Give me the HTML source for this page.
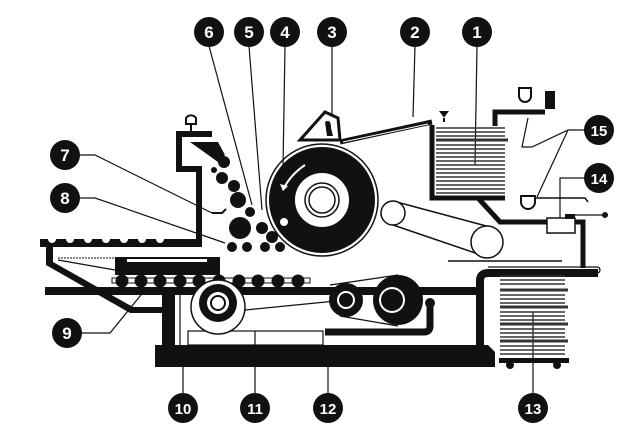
<!DOCTYPE html>
<html><head><meta charset="utf-8"><style>
html,body{margin:0;padding:0;background:#fff;width:640px;height:448px;overflow:hidden}
svg{display:block}
text{font-family:"Liberation Sans",Arial,sans-serif;font-weight:bold;font-size:17px;fill:#fff;text-anchor:middle}
</style></head><body>
<svg width="640" height="448" viewBox="0 0 640 448" xmlns="http://www.w3.org/2000/svg">
<rect width="640" height="448" fill="#fff"/>
<g stroke="#111" stroke-width="1.2" fill="none">
<line x1="209" y1="46" x2="252" y2="205"/>
<line x1="249" y1="46" x2="262" y2="210"/>
<line x1="285" y1="46" x2="283" y2="168"/>
<line x1="332" y1="46" x2="332" y2="115"/>
<line x1="415" y1="46" x2="413" y2="117"/>
<line x1="477" y1="46" x2="475" y2="165"/>
<polyline points="79,155 95,155 212,213"/>
<polyline points="79,198 95,198 225,243"/>
<polyline points="81,333 110,333 145,290"/>
<line x1="183" y1="393" x2="183" y2="345"/>
<line x1="255" y1="393" x2="255" y2="332"/>
<line x1="328" y1="393" x2="328" y2="367"/>
<line x1="533" y1="393" x2="533" y2="312"/>
<polyline points="584,130 568,130 532,147 522,147 528,118"/>
<line x1="568" y1="130" x2="537" y2="197"/>
<polyline points="586,178 560,178 560,222"/>
</g>
<g fill="#111">
<circle cx="209" cy="32" r="15"/><circle cx="249" cy="32" r="15"/><circle cx="285" cy="32" r="15"/>
<circle cx="332" cy="32" r="15"/><circle cx="415" cy="32" r="15"/><circle cx="477" cy="32" r="15"/>
<circle cx="65" cy="155" r="15"/><circle cx="65" cy="198" r="15"/><circle cx="67" cy="333" r="15"/>
<circle cx="183" cy="408" r="15"/><circle cx="255" cy="408" r="15"/><circle cx="328" cy="408" r="15"/>
<circle cx="533" cy="408" r="15"/><circle cx="599" cy="178" r="15"/><circle cx="599" cy="130" r="15"/>
</g>
<g>
<text x="209" y="38">6</text><text x="249" y="38">5</text><text x="285" y="38">4</text>
<text x="332" y="38">3</text><text x="415" y="38">2</text><text x="477" y="38">1</text>
<text x="65" y="161">7</text><text x="65" y="204">8</text><text x="67" y="339">9</text>
<text x="183" y="414" style="font-size:15px">10</text><text x="255" y="414" style="font-size:15px">11</text>
<text x="328" y="414" style="font-size:15px">12</text><text x="533" y="414" style="font-size:15px">13</text>
<text x="599" y="184" style="font-size:15px">14</text><text x="599" y="136" style="font-size:15px">15</text>
</g>

<!-- ink feeder frame -->
<path d="M212,134 H179 V169 H199 V243" stroke="#111" stroke-width="6" fill="none"/>
<path d="M202,247 H46 V265 L130,313 H163 V307 H133 L53,262 V247 H40 V239 H202 Z" fill="#111"/>
<g fill="#fff"><circle cx="52" cy="239" r="4"/><circle cx="70" cy="239" r="4"/><circle cx="88" cy="239" r="4"/><circle cx="106" cy="239" r="4"/><circle cx="124" cy="239" r="4"/><circle cx="142" cy="239" r="4"/><circle cx="160" cy="239" r="4"/></g>
<path d="M186,124 h10 v-6 a6,6 0 0 0 -10 0z M191,124 v8" fill="#fff" stroke="#111" stroke-width="2"/>
<path d="M190,142 H218 L225,155 L218,162 Z" fill="#111"/>
<g fill="#111">
<circle cx="224" cy="162" r="6"/><circle cx="214" cy="170" r="3"/><circle cx="222" cy="178" r="6"/>
<circle cx="234" cy="186" r="6"/><circle cx="238" cy="200" r="8"/><circle cx="250" cy="212" r="5"/>
<circle cx="240" cy="228" r="11"/><circle cx="262" cy="228" r="6"/><circle cx="272" cy="237" r="6"/>
<circle cx="232" cy="247" r="5"/><circle cx="247" cy="247" r="5"/><circle cx="265" cy="247" r="5"/><circle cx="280" cy="247" r="5"/>
</g>
<path d="M212,213 h10 l4,-4" stroke="#111" stroke-width="2" fill="none"/>

<!-- drum -->
<circle cx="322" cy="200" r="56" fill="none" stroke="#111" stroke-width="1.5"/>
<circle cx="322" cy="200" r="40" fill="none" stroke="#111" stroke-width="26"/>
<circle cx="322" cy="200" r="17" fill="none" stroke="#111" stroke-width="1.5"/>
<circle cx="322" cy="200" r="13" fill="none" stroke="#111" stroke-width="1.5"/>
<path d="M305,165 Q290,175 283,190" stroke="#fff" stroke-width="2" fill="none"/>
<path d="M280,184 l3,7 l5,-5z" fill="#fff"/>
<circle cx="284" cy="222" r="4" fill="#fff"/>
<path d="M300,140 L325,112 L338,118 L340,140 Z" fill="#fff" stroke="#111" stroke-width="3"/>
<path d="M325,122 q6,-4 6,6 l2,8 h-6z" fill="#111"/>
<path d="M340,142 L432,122" stroke="#111" stroke-width="5"/>
<path d="M343,142 L428,124" stroke="#fff" stroke-width="1"/>
<path d="M432,125 V198 H505" stroke="#111" stroke-width="5" fill="none"/>
<g stroke="#333" stroke-width="1.6">
<line x1="436" y1="128" x2="505" y2="128"/><line x1="436" y1="132" x2="505" y2="132"/><line x1="436" y1="136" x2="505" y2="136"/><line x1="436" y1="140" x2="508" y2="140" stroke-width="3"/><line x1="436" y1="145" x2="505" y2="145"/><line x1="436" y1="149" x2="505" y2="149"/><line x1="436" y1="153" x2="505" y2="153"/><line x1="436" y1="157" x2="505" y2="157"/><line x1="436" y1="161" x2="505" y2="161"/><line x1="436" y1="165" x2="505" y2="165"/><line x1="436" y1="169" x2="505" y2="169"/><line x1="436" y1="173" x2="505" y2="173"/><line x1="436" y1="177" x2="505" y2="177"/><line x1="436" y1="181" x2="505" y2="181"/><line x1="436" y1="185" x2="505" y2="185"/><line x1="436" y1="189" x2="505" y2="189"/><line x1="436" y1="193" x2="505" y2="193"/>
</g>
<path d="M444,118 v4 M441,112 h6 l-3,4z" stroke="#111" stroke-width="2"/>
<g fill="#fff" stroke="#111" stroke-width="1.5">
<path d="M393,201 L490,227 M393,225 L487,257"/>
<circle cx="393" cy="213" r="12"/><circle cx="487" cy="242" r="16"/>
</g>
<line x1="448" y1="261" x2="562" y2="261" stroke="#111" stroke-width="1.5"/>
<path d="M478,198 L500,222 H583 V268" stroke="#111" stroke-width="5" fill="none"/>
<path d="M495,126 V112 H545" stroke="#111" stroke-width="5" fill="none"/>
<path d="M519,88 h12 v8 a6,6 0 0 1 -12,0z" fill="#fff" stroke="#111" stroke-width="2"/>
<rect x="545" y="91" width="10" height="18" fill="#111"/>
<path d="M521,196 h14 v6 a7,7 0 0 1 -14,0z" fill="#fff" stroke="#111" stroke-width="2"/>
<path d="M535,198 H585 l3,4" stroke="#111" stroke-width="1.5" fill="none"/>
<rect x="547" y="218" width="28" height="15" fill="#fff" stroke="#111" stroke-width="1.5"/>
<rect x="565" y="214" width="10" height="5" fill="#111"/>
<line x1="575" y1="215" x2="605" y2="215" stroke="#111" stroke-width="1.2"/><circle cx="605" cy="215" r="3" fill="#111"/>
<path d="M598,273 H488 Q480,273 480,281 V345" stroke="#111" stroke-width="8" fill="none"/>
<path d="M488,267 H597 a3,3 0 0 1 0,6" stroke="#111" stroke-width="1.3" fill="none"/>
<g stroke="#333" stroke-width="1.6">
<line x1="500" y1="276" x2="565" y2="276"/><line x1="500" y1="280" x2="565" y2="280"/><line x1="500" y1="284" x2="565" y2="284"/><line x1="500" y1="290" x2="568" y2="290" stroke-width="3"/><line x1="500" y1="295" x2="565" y2="295"/><line x1="500" y1="299" x2="565" y2="299"/><line x1="500" y1="303" x2="565" y2="303"/><line x1="500" y1="307" x2="568" y2="307" stroke-width="3"/><line x1="500" y1="312" x2="565" y2="312"/><line x1="500" y1="316" x2="565" y2="316"/><line x1="500" y1="320" x2="565" y2="320"/><line x1="500" y1="324" x2="568" y2="324" stroke-width="3"/><line x1="500" y1="329" x2="565" y2="329"/><line x1="500" y1="333" x2="565" y2="333"/><line x1="500" y1="337" x2="565" y2="337"/><line x1="500" y1="341" x2="568" y2="341" stroke-width="3"/><line x1="500" y1="346" x2="565" y2="346"/><line x1="500" y1="350" x2="565" y2="350"/><line x1="500" y1="354" x2="565" y2="354"/>
</g>
<rect x="499" y="358" width="70" height="5" fill="#111"/>
<circle cx="510" cy="365" r="4" fill="#111"/><circle cx="557" cy="365" r="4" fill="#111"/>
<rect x="45" y="287" width="432" height="8" fill="#111"/>
<rect x="162" y="295" width="13" height="52" fill="#111"/>
<path d="M155,345 H488 L495,352 V367 H155 Z" fill="#111"/>
<line x1="180" y1="295" x2="180" y2="345" stroke="#111" stroke-width="1.2"/>
<rect x="188" y="331" width="135" height="14" fill="#fff" stroke="#111" stroke-width="1.2"/>
<line x1="255" y1="331" x2="255" y2="345" stroke="#111" stroke-width="1.2"/>
<path d="M58,260 L115,270" stroke="#111" stroke-width="1.2"/>
<line x1="58" y1="258" x2="115" y2="258" stroke="#111" stroke-width="1" stroke-dasharray="2,1"/>
<rect x="115" y="257" width="105" height="18" fill="#111"/>
<rect x="127" y="259" width="80" height="3" fill="#fff"/>
<rect x="112" y="278" width="198" height="5" fill="#fff" stroke="#111" stroke-width="1"/>
<g fill="#111">
<circle cx="122" cy="281" r="6.5"/><circle cx="141" cy="281" r="6.5"/><circle cx="160" cy="281" r="6.5"/><circle cx="180" cy="281" r="6.5"/><circle cx="199" cy="281" r="6.5"/><circle cx="219" cy="281" r="6.5"/><circle cx="239" cy="281" r="6.5"/><circle cx="258" cy="281" r="6.5"/><circle cx="278" cy="281" r="6.5"/><circle cx="298" cy="281" r="6.5"/>
</g>
<circle cx="218" cy="307" r="27" fill="#fff" stroke="#111" stroke-width="1.5"/>
<circle cx="218" cy="303" r="19" fill="#111"/>
<circle cx="218" cy="303" r="11" fill="#fff"/>
<circle cx="218" cy="303" r="7" fill="none" stroke="#111" stroke-width="2"/>
<path d="M245,310 L346,300" stroke="#111" stroke-width="1.3"/>
<path d="M330,285 L398,275 M340,316 L398,326" stroke="#111" stroke-width="1.3"/>
<circle cx="346" cy="300" r="17" fill="#111"/>
<circle cx="346" cy="300" r="9" fill="#fff"/><circle cx="346" cy="300" r="7" fill="#111"/>
<circle cx="398" cy="300" r="25" fill="#111"/>
<circle cx="392" cy="300" r="13" fill="#fff"/><circle cx="392" cy="300" r="11" fill="#111"/>
<path d="M430,303 V326 Q430,332 424,332 H325" stroke="#111" stroke-width="7" fill="none"/>
<circle cx="430" cy="303" r="5" fill="#111"/>
</svg>
</body></html>
